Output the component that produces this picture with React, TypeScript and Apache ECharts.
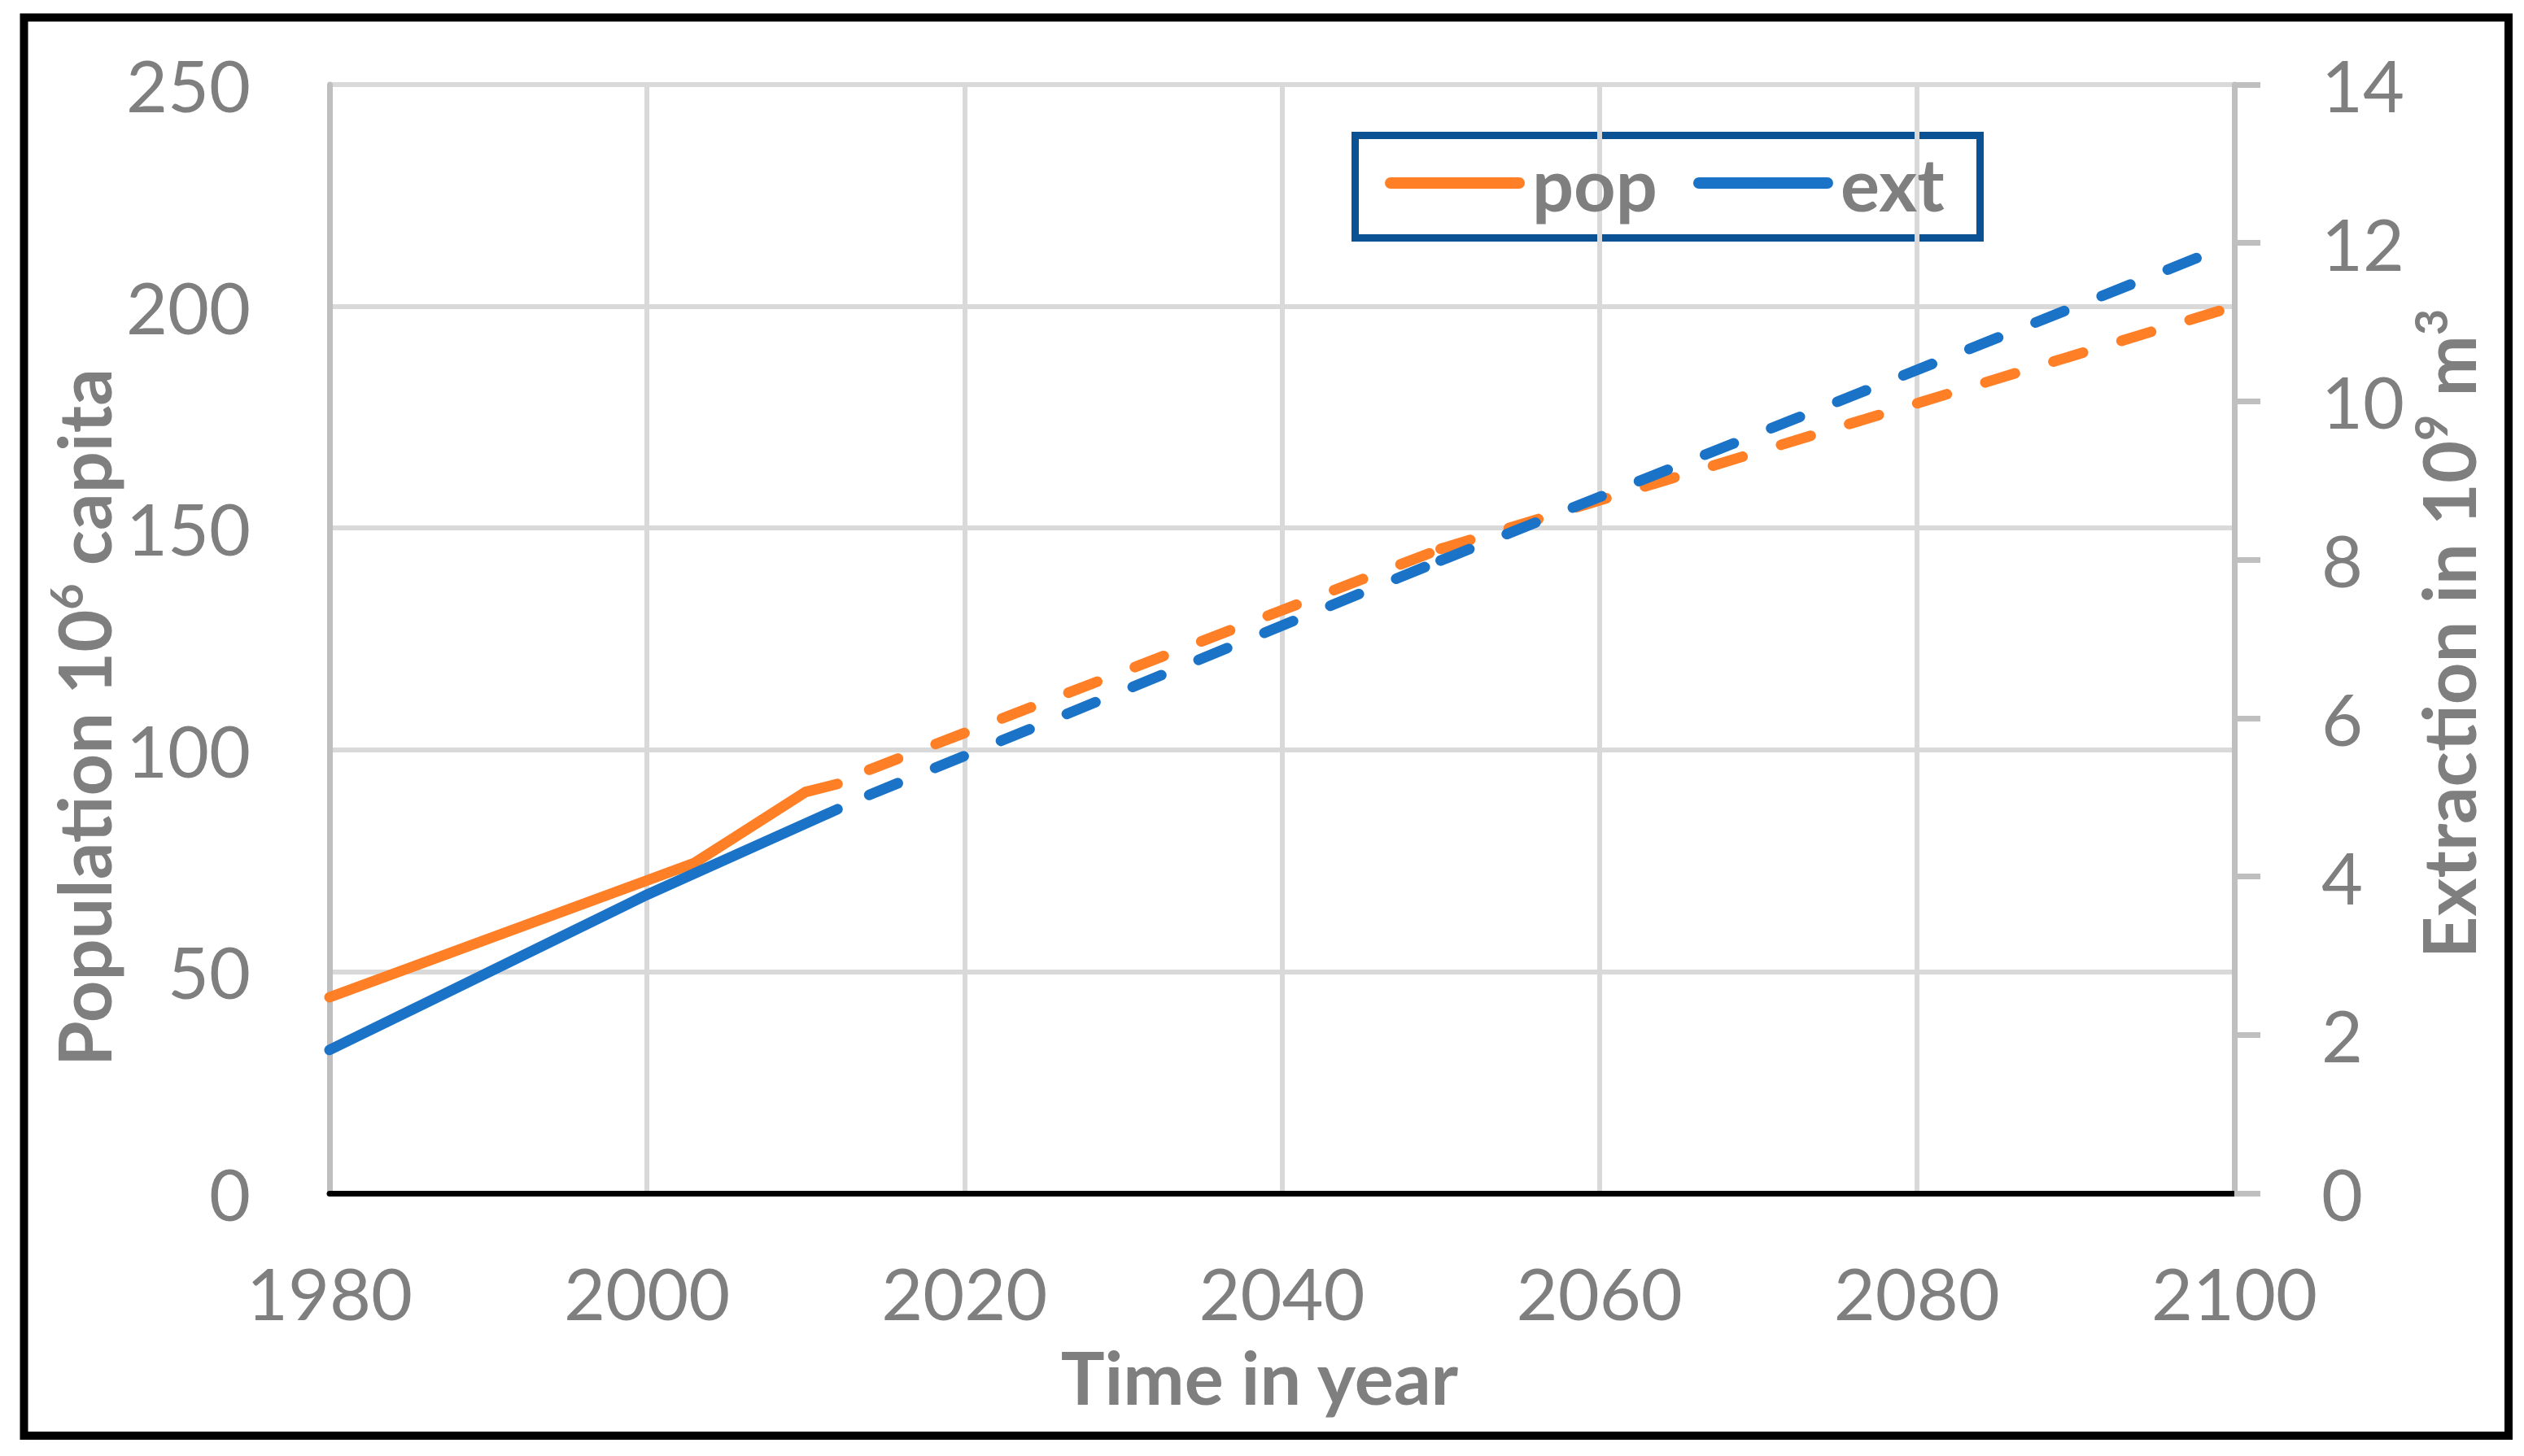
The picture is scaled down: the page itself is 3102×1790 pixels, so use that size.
import React, { useEffect, useRef } from "react";
import * as echarts from "echarts";

// ---- data ----
const YEAR_TICKS = [1980, 2000, 2020, 2040, 2060, 2080, 2100];
const POP_TICKS = [0, 50, 100, 150, 200, 250];
const EXT_TICKS = [0, 2, 4, 6, 8, 10, 12, 14];

// observed (solid)
const POP_OBSERVED: [number, number][] = [
  [1980, 44.2],
  [2003, 74.5],
  [2010, 90.5],
  [2012, 92.3],
];
const EXT_OBSERVED: [number, number][] = [
  [1980, 1.81],
  [2000, 3.77],
  [2012, 4.85],
];
// projections (dashed, two segments each)
const POP_PROJ_A: [number, number][] = [
  [2014, 95.5],
  [2050, 145.3],
];
const POP_PROJ_B: [number, number][] = [
  [2050, 145.3],
  [2100, 200.0],
];
const EXT_PROJ_A: [number, number][] = [
  [2014, 5.03],
  [2050, 7.99],
];
const EXT_PROJ_B: [number, number][] = [
  [2050, 7.99],
  [2099, 11.92],
];

const ORANGE = "#FF7F27";
const BLUE = "#1A73C7";
const GRAY = "#7F7F7F";
const FONT = "Lato";

export default function App() {
  const ref = useRef<HTMLDivElement>(null);

  useEffect(() => {
    if (!ref.current) return;
    const chart = echarts.init(ref.current, null, { renderer: "svg" });

    const lineBase = (color: string) => ({
      type: "line" as const,
      symbol: "none",
      color,
      animation: false,
      lineStyle: { color, width: 13, cap: "round", join: "round" },
    });
    const dash = [38, 49.5];

    const option: any = {
      animation: false,
      backgroundColor: "#ffffff",
      grid: { left: 405, right: 356, top: 104, bottom: 323, containLabel: false },
      xAxis: {
        type: "value",
        min: YEAR_TICKS[0],
        max: YEAR_TICKS[YEAR_TICKS.length - 1],
        interval: YEAR_TICKS[1] - YEAR_TICKS[0],
        axisLine: { show: true, onZero: false, lineStyle: { color: "#000000", width: 7 } },
        axisTick: { show: false },
        axisLabel: {
          color: GRAY,
          fontFamily: FONT,
          fontSize: 88,
          lineHeight: 88,
          margin: 78,
          formatter: (v: number) => String(v),
        },
        splitLine: {
          show: true,
          showMinLine: false,
          showMaxLine: false,
          lineStyle: { color: "#D9D9D9", width: 6 },
        },
      },
      yAxis: [
        {
          type: "value",
          position: "left",
          min: POP_TICKS[0],
          max: POP_TICKS[POP_TICKS.length - 1],
          interval: POP_TICKS[1] - POP_TICKS[0],
          axisLine: { show: true, lineStyle: { color: "#BFBFBF", width: 7 } },
          axisTick: { show: false },
          axisLabel: { color: GRAY, fontFamily: FONT, fontSize: 88, lineHeight: 88, margin: 97 },
          splitLine: {
            show: true,
            showMinLine: false,
            lineStyle: { color: "#D9D9D9", width: 6 },
          },
        },
        {
          type: "value",
          position: "right",
          min: EXT_TICKS[0],
          max: EXT_TICKS[EXT_TICKS.length - 1],
          interval: EXT_TICKS[1] - EXT_TICKS[0],
          axisLine: { show: true, lineStyle: { color: "#BFBFBF", width: 7 } },
          axisTick: { show: true, inside: false, length: 32, lineStyle: { color: "#BFBFBF", width: 7 } },
          axisLabel: { color: GRAY, fontFamily: FONT, fontSize: 88, lineHeight: 88, margin: 107 },
          splitLine: { show: false },
        },
      ],
      legend: {
        data: ["pop", "ext"],
        left: 1702,
        top: 175,
        padding: 0,
        orient: "horizontal",
        itemWidth: 158,
        itemHeight: 14,
        itemGap: 44,
        selectedMode: false,
        lineStyle: { width: 14, cap: "round" },
        textStyle: {
          color: GRAY,
          fontFamily: FONT,
          fontSize: 90,
          fontWeight: "bold",
          lineHeight: 100,
          padding: [0, 0, 0, 11],
        },
      },
      graphic: [
        {
          type: "rect",
          silent: true,
          shape: { x: 29.5, y: 21.5, width: 3053.5, height: 1743.5 },
          style: { fill: "none", stroke: "#000000", lineWidth: 10 },
        },
        {
          type: "rect",
          silent: true,
          shape: { x: 1665.5, y: 166.5, width: 768, height: 126 },
          style: { fill: "none", stroke: "#0A5294", lineWidth: 9 },
        },
        {
          type: "text",
          silent: true,
          x: 1548,
          y: 1692,
          style: {
            text: "Time in year",
            fill: GRAY,
            fontFamily: FONT,
            fontSize: 90,
            fontWeight: "bold",
            align: "center",
            verticalAlign: "middle",
            textAlign: "center",
            textVerticalAlign: "middle",
          },
        },
        {
          type: "text",
          silent: true,
          x: 102,
          y: 882,
          rotation: Math.PI / 2,
          style: {
            text: "Population 10{s|6} capita",
            fill: GRAY,
            fontFamily: FONT,
            fontSize: 90,
            fontWeight: "bold",
            lineHeight: 100,
            align: "center",
            verticalAlign: "middle",
            textAlign: "center",
            textVerticalAlign: "middle",
            rich: {
              s: {
                fill: GRAY,
                fontFamily: FONT,
                fontSize: 56,
                fontWeight: "bold",
                lineHeight: 64,
                verticalAlign: "top",
              },
            },
          },
        },
        {
          type: "text",
          silent: true,
          x: 3008,
          y: 779,
          rotation: Math.PI / 2,
          style: {
            text: "Extraction in 10{s|9} m{s|3}",
            fill: GRAY,
            fontFamily: FONT,
            fontSize: 90,
            fontWeight: "bold",
            lineHeight: 100,
            align: "center",
            verticalAlign: "middle",
            textAlign: "center",
            textVerticalAlign: "middle",
            rich: {
              s: {
                fill: GRAY,
                fontFamily: FONT,
                fontSize: 56,
                fontWeight: "bold",
                lineHeight: 64,
                verticalAlign: "top",
              },
            },
          },
        },
      ],
      series: [
        { ...lineBase(ORANGE), name: "pop", yAxisIndex: 0, data: POP_OBSERVED, z: 3 },
        {
          ...lineBase(ORANGE),
          name: "pop projection",
          yAxisIndex: 0,
          data: POP_PROJ_A,
          z: 3,
          lineStyle: { color: ORANGE, width: 13, cap: "round", join: "round", type: dash },
        },
        {
          ...lineBase(ORANGE),
          name: "pop projection (2)",
          yAxisIndex: 0,
          data: POP_PROJ_B,
          z: 3,
          lineStyle: { color: ORANGE, width: 13, cap: "round", join: "round", type: dash },
        },
        { ...lineBase(BLUE), name: "ext", yAxisIndex: 1, data: EXT_OBSERVED, z: 4 },
        {
          ...lineBase(BLUE),
          name: "ext projection",
          yAxisIndex: 1,
          data: EXT_PROJ_A,
          z: 4,
          lineStyle: { color: BLUE, width: 13, cap: "round", join: "round", type: dash },
        },
        {
          ...lineBase(BLUE),
          name: "ext projection (2)",
          yAxisIndex: 1,
          data: EXT_PROJ_B,
          z: 4,
          lineStyle: { color: BLUE, width: 13, cap: "round", join: "round", type: dash },
        },
      ],
    };

    chart.setOption(option);
    return () => {
      chart.dispose();
    };
  }, []);

  return (
    <div
      ref={ref}
      style={{ position: "absolute", left: 0, top: 0, width: 3102, height: 1790, background: "#fff" }}
    />
  );
}
